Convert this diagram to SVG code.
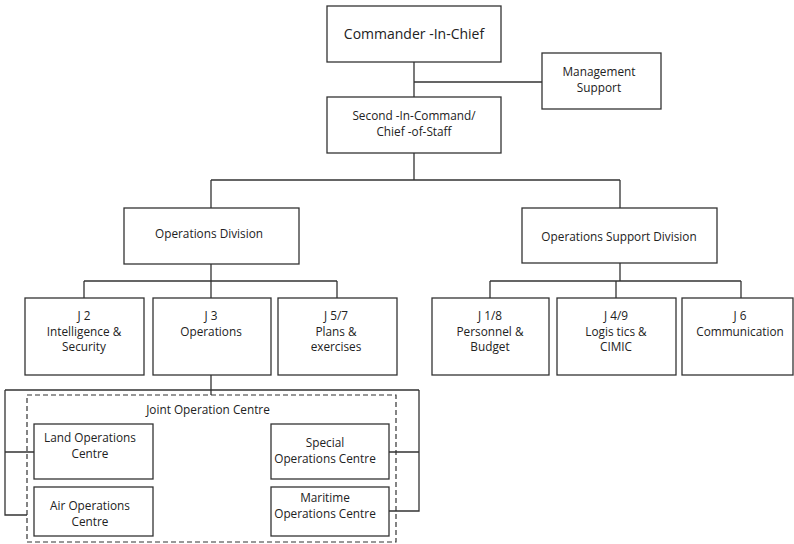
<svg xmlns="http://www.w3.org/2000/svg" width="794" height="544" viewBox="0 0 794 544">
<style>
.box{fill:#fff;stroke:#333;stroke-width:1.3}
.ln{fill:none;stroke:#333;stroke-width:1.3}
.dash{fill:none;stroke:#333;stroke-width:1.2;stroke-dasharray:5,3}
text{font-family:"Open Sans","Liberation Sans",Arial,sans-serif;font-size:11.8px;fill:#222;text-anchor:middle}
.big{font-size:14px}
</style>
<rect width="794" height="544" fill="#fff"/>
<g id="connectors">
<path class="ln" d="M414 62V97M414 82H542M414 153V180M211 180H620M211 180V208M620 180V208"/>
<path class="ln" d="M211 264V281M84 281H337M84 281V298M211 281V298M337 281V298"/>
<path class="ln" d="M620 263V281M490 281H741M490 281V298M616 281V298M741 281V298"/>
<path class="ln" d="M211 375V395M5 390H419M5 390V515H27M5 452H34M419 390V511H389M389 452H419"/>
</g>
<g id="commander"><rect class="box" x="327" y="6" width="174" height="56"/><text class="big" x="414" y="39">Commander -In-Chief</text></g>
<g id="management"><rect class="box" x="542" y="53" width="119" height="56"/><text x="599" y="76">Management</text><text x="599" y="92">Support</text></g>
<g id="second"><rect class="box" x="327" y="97" width="174" height="56"/><text x="414" y="120">Second -In-Command/</text><text x="414" y="136">Chief -of-Staff</text></g>
<g id="ops-div"><rect class="box" x="124" y="208" width="175" height="56"/><text x="209" y="238">Operations Division</text></g>
<g id="ops-support"><rect class="box" x="522" y="208" width="195" height="55"/><text x="619" y="241">Operations Support Division</text></g>
<g id="j2"><rect class="box" x="25" y="298" width="119" height="77"/><text x="84" y="320">J 2</text><text x="84" y="335.5">Intelligence &amp;</text><text x="84" y="351">Security</text></g>
<g id="j3"><rect class="box" x="153" y="298" width="118" height="77"/><text x="211" y="320">J 3</text><text x="211" y="335.5">Operations</text></g>
<g id="j57"><rect class="box" x="278" y="298" width="119" height="77"/><text x="336" y="320">J 5/7</text><text x="336" y="335.5">Plans &amp;</text><text x="336" y="351">exercises</text></g>
<g id="j18"><rect class="box" x="432" y="298" width="117" height="77"/><text x="490" y="320">J 1/8</text><text x="490" y="335.5">Personnel &amp;</text><text x="490" y="351">Budget</text></g>
<g id="j49"><rect class="box" x="557" y="298" width="119" height="77"/><text x="616" y="320">J 4/9</text><text x="616" y="335.5">Logis tics &amp;</text><text x="616" y="351">CIMIC</text></g>
<g id="j6"><rect class="box" x="682" y="298" width="111" height="77"/><text x="740" y="320">J 6</text><text x="740" y="335.5">Communication</text></g>
<g id="joc"><rect class="dash" x="27" y="395" width="369" height="147"/><text x="208" y="413.5">Joint Operation Centre</text></g>
<g id="land"><rect class="box" x="34" y="424" width="119" height="55"/><text x="90" y="442">Land Operations</text><text x="90" y="458">Centre</text></g>
<g id="air"><rect class="box" x="34" y="487" width="119" height="49"/><text x="90" y="510">Air Operations</text><text x="90" y="526">Centre</text></g>
<g id="special"><rect class="box" x="271" y="424" width="118" height="55"/><text x="325" y="447">Special</text><text x="325" y="463">Operations Centre</text></g>
<g id="maritime"><rect class="box" x="271" y="487" width="118" height="49"/><text x="325" y="502">Maritime</text><text x="325" y="518">Operations Centre</text></g>
</svg>
